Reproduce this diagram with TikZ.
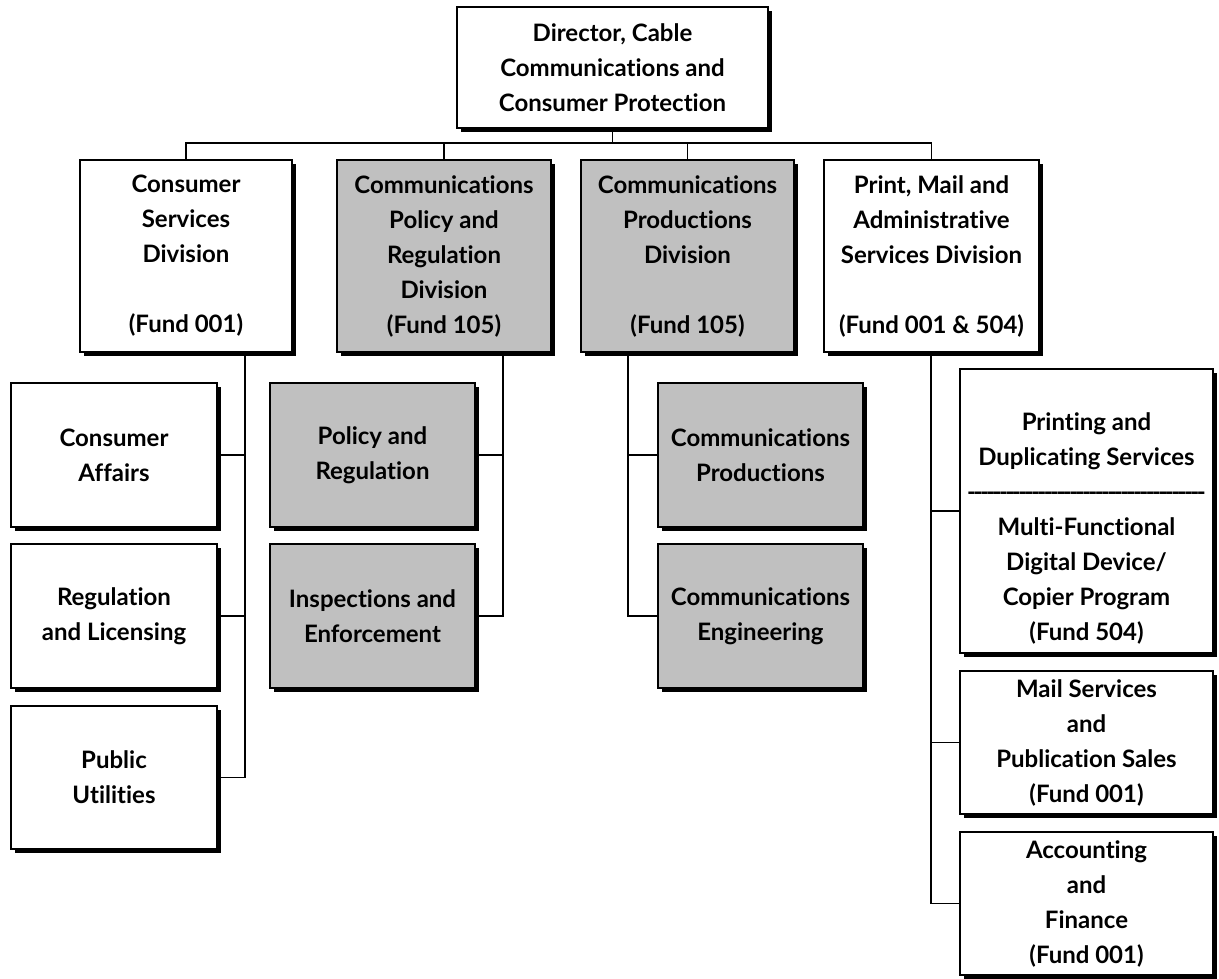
\documentclass[tikz,border=0pt]{standalone}
\usepackage{fontspec}
\setmainfont{Lato}[Ligatures={NoCommon}]
\usetikzlibrary{shadows}
\definecolor{boxgray}{RGB}{192,192,192}
\newcommand\hyphenrow{\hbox to 236pt{\xleaders\hbox{\kern-1.3pt-\kern-1.3pt}\hfill}}
\begin{document}
\begin{tikzpicture}[x=1pt,y=-1pt,
  orgbox/.style={draw=black, line width=1.3pt, fill=white, inner sep=2pt,
    align=center, font=\fontsize{24}{35}\selectfont\bfseries,
    drop shadow={shadow xshift=4pt, shadow yshift=-4pt, fill=black, opacity=1}},
  graybox/.style={orgbox, fill=boxgray},
  link/.style={draw=black, line width=1.2pt}]
\useasboundingbox (0,0) rectangle (1219,979);

% top
\node[orgbox, minimum width=311pt, minimum height=121pt] (dir) at (612.5,67.5)
  {Director, Cable\\Communications and\\Consumer Protection};

% second level
\node[orgbox, minimum width=212pt, minimum height=192pt] (csd) at (186,256)
  {Consumer\\Services\\Division\\[35pt](Fund 001)};
\node[graybox, minimum width=214pt, minimum height=192pt] (cpr) at (444,256)
  {Communications\\Policy and\\Regulation\\Division\\(Fund 105)};
\node[graybox, minimum width=213pt, minimum height=192pt] (cpd) at (687.5,256)
  {Communications\\Productions\\Division\\[35pt](Fund 105)};
\node[orgbox, minimum width=215pt, minimum height=192pt] (pma) at (931.5,256)
  {Print, Mail and\\Administrative\\Services Division\\[35pt](Fund 001 \& 504)};

% third level, left
\node[orgbox, minimum width=206pt, minimum height=144pt] (ca) at (114,455)
  {Consumer\\Affairs};
\node[orgbox, minimum width=206pt, minimum height=144pt] (rl) at (114,616)
  {Regulation\\and Licensing};
\node[orgbox, minimum width=206pt, minimum height=143pt] (pu) at (114,777.5)
  {Public\\Utilities};

% policy column
\node[graybox, minimum width=205pt, minimum height=144pt] (pr) at (372.5,455)
  {Policy and\\Regulation};
\node[graybox, minimum width=205pt, minimum height=144pt] (ie) at (372.5,616)
  {Inspections and\\Enforcement};

% productions column
\node[graybox, minimum width=205pt, minimum height=144pt] (cp) at (760.5,455)
  {Communications\\Productions};
\node[graybox, minimum width=205pt, minimum height=144pt] (ce) at (760.5,616)
  {Communications\\Engineering};

% right column
\node[orgbox, minimum width=253pt, minimum height=284pt] (pd) at (1086.5,511)
  {\rule{0pt}{52pt}Printing and\\Duplicating Services\\\hyphenrow\\Multi-Functional\\Digital Device/\\Copier Program\\(Fund 504)};
\node[orgbox, minimum width=253pt, minimum height=143pt] (ms) at (1086.5,742.5)
  {Mail Services\\and\\Publication Sales\\(Fund 001)};
\node[orgbox, minimum width=253pt, minimum height=143pt] (af) at (1086.5,903.5)
  {Accounting\\and\\Finance\\(Fund 001)};

% connectors, top bar
\coordinate (bar) at (0,143);
\draw[link] (csd.north) -- (csd.north |- bar) -- (pma.north |- bar) -- (pma.north);
\draw[link] (dir.south) -- (dir.south |- bar);
\draw[link] (cpr.north) -- (cpr.north |- bar);
\draw[link] (cpd.north) -- (cpd.north |- bar);

% trunks
\coordinate (t1) at (245,352);
\coordinate (t2) at (503,352);
\coordinate (t3) at (628,352);
\coordinate (t4) at (931,352);
\draw[link] (t1) |- (pu.east);
\draw[link] (ca.east) -- (ca.east -| t1);
\draw[link] (rl.east) -- (rl.east -| t1);
\draw[link] (t2) |- (ie.east);
\draw[link] (pr.east) -- (pr.east -| t2);
\draw[link] (t3) |- (ce.west);
\draw[link] (cp.west) -- (cp.west -| t3);
\draw[link] (t4) |- (af.west);
\draw[link] (pd.west) -- (pd.west -| t4);
\draw[link] (ms.west) -- (ms.west -| t4);
\end{tikzpicture}
\end{document}
